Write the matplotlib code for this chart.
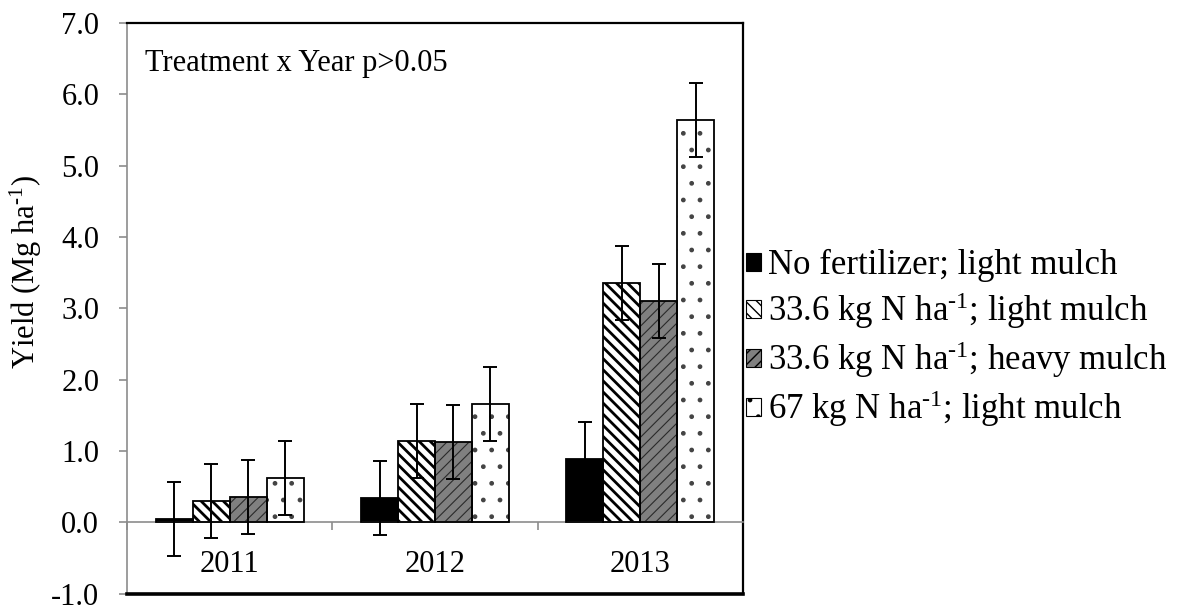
import numpy as np
import matplotlib
matplotlib.use("Agg")
import matplotlib.pyplot as plt
from matplotlib.patches import Patch

plt.rcParams['font.family'] = ['Liberation Serif', 'DejaVu Serif']
plt.rcParams['mathtext.fontset'] = 'custom'
plt.rcParams['mathtext.rm'] = 'Liberation Serif'
plt.rcParams['mathtext.it'] = 'Liberation Serif:italic'
plt.rcParams['axes.unicode_minus'] = False

# data
years = ['2011', '2012', '2013']
treatments = ['No fertilizer; light mulch',
              '33.6 kg N ha$^{\\text{-1}}$; light mulch',
              '33.6 kg N ha$^{\\text{-1}}$; heavy mulch',
              '67 kg N ha$^{\\text{-1}}$; light mulch']
yield_no_fert = [0.05, 0.34, 0.89]
yield_336_light = [0.30, 1.14, 3.36]
yield_336_heavy = [0.35, 1.12, 3.10]
yield_67_light = [0.62, 1.66, 5.64]
err = [0.52, 0.52, 0.52]

series = [yield_no_fert, yield_336_light, yield_336_heavy, yield_67_light]
# facecolor, hatch, hatch colour, hatch linewidth
styles = [('black', '', 'black', 1.0),
          ('white', '\\\\\\', 'black', 2.0),
          ('#808080', '///', '#2a2a2a', 0.8),
          ('white', '.', '#444444', 1.0)]

fig = plt.figure(figsize=(11.9, 6.1), dpi=100)
ax = fig.add_axes([0.1067, 0.027, 0.5177, 0.9353])

x = np.arange(len(years))
width = 0.18
handles = []
for i, (vals, (fc, hatch, hc, hlw)) in enumerate(zip(series, styles)):
    pos = x + (i - 1.5) * width
    with plt.rc_context({'hatch.linewidth': hlw, 'hatch.color': hc}):
        ax.bar(pos, vals, width, color=fc, edgecolor=hc, hatch=hatch,
               linewidth=0, zorder=2)
    ax.bar(pos, vals, width, fill=False, edgecolor='black', linewidth=1.3, zorder=3)
    ax.errorbar(pos, vals, yerr=err, fmt='none', ecolor='black', elinewidth=1.4,
                capsize=5, capthick=1.4, zorder=4)
    with plt.rc_context({'hatch.linewidth': min(hlw, 1.2), 'hatch.color': hc}):
        handles.append(Patch(facecolor=fc, edgecolor='black', hatch=hatch,
                             linewidth=0.8))

ax.set_xlim(-0.5, 2.5)
ax.set_ylim(-1.0, 7.0)
ax.set_yticks(np.arange(-1, 7.5, 1.0))
ax.yaxis.set_major_formatter(matplotlib.ticker.FormatStrFormatter('%.1f'))

# category axis sits at y = 0
ax.spines['bottom'].set_position(('data', 0))
ax.spines['bottom'].set_color('#8c8c8c')
ax.spines['bottom'].set_linewidth(1.2)
ax.spines['left'].set_color('#8c8c8c')
ax.spines['left'].set_linewidth(1.2)
ax.spines['top'].set_linewidth(1.6)
ax.spines['right'].set_linewidth(1.6)
ax.axhline(-1.0, color='black', linewidth=2.6, clip_on=False, zorder=5)

ax.set_xticks(x)
ax.set_xticklabels(years)
ax.set_xticks([-0.5, 0.5, 1.5, 2.5], minor=True)
ax.tick_params(axis='x', which='major', length=0, pad=20, labelsize=22)
ax.tick_params(axis='x', which='minor', length=6, width=1.2, color='#8c8c8c',
               direction='out')
ax.tick_params(axis='y', length=6, width=1.2, color='#8c8c8c', labelsize=22, pad=14)

ax.set_ylabel('Yield (Mg ha$^{\\text{-1}}$)', fontsize=22)
ax.yaxis.set_label_coords(-0.135, 0.564)
ax.text(0.03, 0.955, 'Treatment x Year p>0.05', transform=ax.transAxes,
        fontsize=22, va='top', ha='left')

fig.legend(handles, treatments, loc='center left',
           bbox_to_anchor=(0.627, 0.444), frameon=False, fontsize=25,
           handlelength=0.42, handleheight=0.42, handletextpad=0.2,
           labelspacing=0.24, borderpad=0, borderaxespad=0)

fig.savefig('out.png', dpi=100)
